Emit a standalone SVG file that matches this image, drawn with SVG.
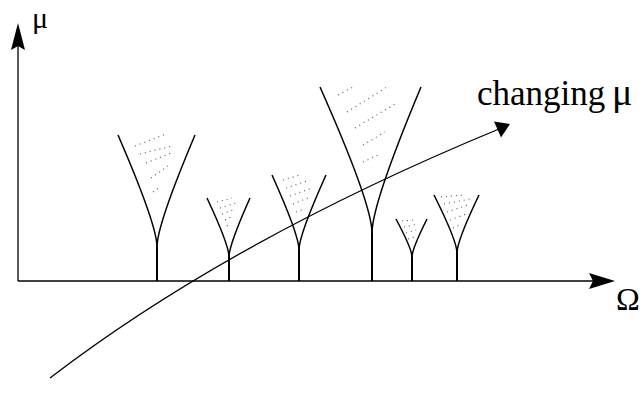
<svg xmlns="http://www.w3.org/2000/svg" width="643" height="398" viewBox="0 0 643 398">
  <style>
    .axis { stroke: #000; stroke-width: 1.3; fill: none; }
    .arm { stroke: #000; stroke-width: 1.5; fill: none; }
    .stem { stroke: #000; stroke-width: 2; fill: none; }
    .dots { stroke: #555; stroke-width: 1.1; stroke-dasharray: 1 4; fill: none; }
    .head { fill: #000; stroke: none; }
    .lbl { font-family: "Liberation Serif", "Times New Roman", serif; fill: #000; }
  </style>
  <rect width="643" height="398" fill="#fff"/>

  <!-- axes -->
  <g id="axes">
    <path class="axis" d="M18,281 H600"/>
    <path class="axis" d="M18,281 V40"/>
    <polygon class="head" points="615,281 589,273 593,281 589,289"/>
    <polygon class="head" points="18,23 11,50 18,46 25,50"/>
    <text class="lbl" x="32" y="28" font-size="30">μ</text>
    <text class="lbl" x="616" y="310" font-size="32">Ω</text>
  </g>

  <!-- resonance tongues -->
  <g id="tongue1">
    <path class="arm" d="M118,135 Q157,225 157,247"/>
    <path class="arm" d="M195,135 Q157,225 157,247"/>
    <path class="stem" d="M157,247 V281"/>
    <path class="dots" d="M135,146 L166,134 M140,154 L172,146 M146,163 L171,153 M151,178 L168,166 M153,192 L161,186"/>
  </g>
  <g id="tongue2">
    <path class="arm" d="M207,198 Q229,245 229,257"/>
    <path class="arm" d="M250,198 Q229,245 229,257"/>
    <path class="stem" d="M229,257 V281"/>
    <path class="dots" d="M217,202 L232,198 M220,208 L236,203 M222,214 L235,209 M225,220 L233,216 M227,226 L231,224"/>
  </g>
  <g id="tongue3">
    <path class="arm" d="M272,175 Q299,235 299,250"/>
    <path class="arm" d="M326,175 Q299,235 299,250"/>
    <path class="stem" d="M299,250 V281"/>
    <path class="dots" d="M283,180 L300,175 M286,188 L310,180 M290,196 L312,188 M293,204 L308,198 M296,212 L304,209"/>
  </g>
  <g id="tongue4">
    <path class="arm" d="M320,87 Q372,204 372,233"/>
    <path class="arm" d="M421,87 Q372,204 372,233"/>
    <path class="stem" d="M372,233 V281"/>
    <path class="dots" d="M338,95 L353,87 M347,112 L387,87 M355,128 L395,104 M363,145 L385,132 M363,162 L378,155"/>
  </g>
  <g id="tongue5">
    <path class="arm" d="M396,219 Q412,249 412,257"/>
    <path class="arm" d="M427,219 Q412,249 412,257"/>
    <path class="stem" d="M412,257 V281"/>
    <path class="dots" d="M402,221 L416,220 M404,227 L418,224 M406,233 L416,230 M408,239 L414,237"/>
  </g>
  <g id="tongue6">
    <path class="arm" d="M434,195 Q457,241 457,253"/>
    <path class="arm" d="M479,195 Q457,241 457,253"/>
    <path class="stem" d="M457,253 V281"/>
    <path class="dots" d="M441,197 L462,195 M444,204 L470,199 M447,212 L468,205 M450,220 L466,214 M453,228 L462,224"/>
  </g>

  <!-- parameter path -->
  <g id="connectors">
    <path class="axis" d="M50,378 Q230,240 499,129"/>
    <polygon class="head" points="510,124 494,121.5 501,137.5"/>
  </g>
  <g id="label-changing">
    <text class="lbl" x="477" y="105" font-size="35">changing</text>
    <text class="lbl" x="612" y="105" font-size="38">μ</text>
  </g>
</svg>
